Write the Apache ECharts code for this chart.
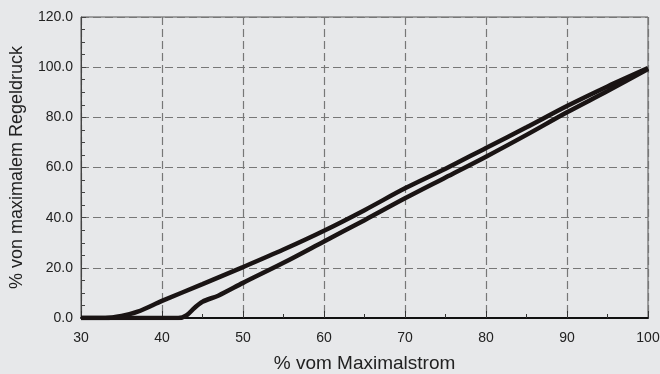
<!DOCTYPE html>
<html>
<head>
<meta charset="utf-8">
<script src="https://cdn.jsdelivr.net/npm/echarts@6/dist/echarts.min.js"></script>
<style>
    html, body { margin: 0; padding: 0; background: #e7e8ea; }
    #chart1 { width: 660px; height: 374px; }
</style>
</head>
<body>
<div id="chart1"></div>
<script>
// obere Kurve (abfallender Strom)
var stromOben = [30, 33, 35, 37, 40, 45, 50, 55, 60, 65, 70, 75, 80, 85, 90, 95, 100];
var druckOben = [0, 0, 0.8, 2.5, 6.8, 13.5, 20.3, 27.3, 34.8, 43.0, 51.7, 59.5, 67.8, 76.0, 84.5, 92.3, 99.6];
// untere Kurve (steigender Strom)
var stromUnten = [30, 42, 43, 44, 45, 47, 50, 55, 60, 65, 70, 75, 80, 85, 90, 95, 100];
var druckUnten = [0, 0, 1.0, 4.0, 6.5, 9.0, 14.0, 22.0, 30.5, 39.0, 47.7, 56.0, 64.3, 73.0, 82.0, 90.5, 99.3];

function zip(xs, ys) {
    var out = [];
    for (var i = 0; i < xs.length; i++) {
        out.push([xs[i], ys[i]]);
    }
    return out;
}

function drawChart1() {
    var dom1 = document.getElementById("chart1");
    var myChart1 = echarts.init(dom1);
    var option = {
        backgroundColor: '#e7e8ea',
        textStyle: {
            fontFamily: 'Liberation Sans, Arial, sans-serif'
        },
        grid: {
            left: 81,
            right: 12,
            top: 17,
            bottom: 56,
            containLabel: false,
            outerBoundsMode: 'none',
            show: true,
            borderColor: '#555',
            borderWidth: 1,
            backgroundColor: 'transparent'
        },
        xAxis: {
            type: 'value',
            min: 30,
            max: 100,
            interval: 10,
            name: '% vom Maximalstrom',
            nameLocation: 'middle',
            nameGap: 36,
            nameTextStyle: {
                fontSize: 19,
                color: '#222'
            },
            axisLine: {
                lineStyle: {
                    color: '#111',
                    width: 2
                }
            },
            axisTick: {
                inside: true,
                length: 7,
                lineStyle: {
                    color: '#333'
                }
            },
            minorTick: {
                show: true,
                splitNumber: 2,
                length: 4,
                lineStyle: {
                    color: '#333'
                }
            },
            axisLabel: {
                fontSize: 14,
                color: '#222',
                margin: 13
            },
            splitLine: {
                show: true,
                lineStyle: {
                    color: '#777',
                    type: [8, 4],
                    width: 1.2
                }
            }
        },
        yAxis: {
            type: 'value',
            min: 0,
            max: 120,
            interval: 20,
            name: '% von maximalem Regeldruck',
            nameLocation: 'middle',
            nameGap: 55,
            nameTextStyle: {
                fontSize: 18,
                color: '#222'
            },
            axisLine: {
                show: true,
                lineStyle: {
                    color: '#444',
                    width: 1
                }
            },
            axisTick: {
                show: true,
                inside: true,
                length: 5,
                lineStyle: {
                    color: '#444'
                }
            },
            minorTick: {
                show: true,
                splitNumber: 4,
                length: 4,
                lineStyle: {
                    color: '#444'
                }
            },
            axisLabel: {
                fontSize: 14,
                color: '#222',
                margin: 8,
                formatter: function (v) {
                    return v.toFixed(1);
                }
            },
            splitLine: {
                show: true,
                lineStyle: {
                    color: '#777',
                    type: [8, 4],
                    width: 1.2
                }
            }
        },
        series: [{
            name: 'oben',
            type: 'line',
            symbol: 'none',
            smooth: 0.3,
            lineStyle: {
                color: '#1a1414',
                width: 4.5
            },
            data: zip(stromOben, druckOben)
        }, {
            name: 'unten',
            type: 'line',
            symbol: 'none',
            smooth: 0.3,
            lineStyle: {
                color: '#1a1414',
                width: 4.5
            },
            data: zip(stromUnten, druckUnten)
        }]
    };
    myChart1.setOption(option, true);
    window.onresize = myChart1.resize;
}

drawChart1();
</script>
</body>
</html>
